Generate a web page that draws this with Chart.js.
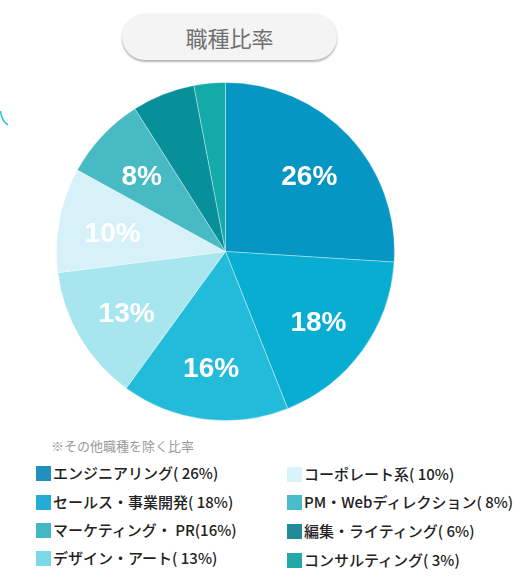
<!DOCTYPE html>
<html><head><meta charset="utf-8">
<script src="https://cdn.jsdelivr.net/npm/chart.js@4.4.1/dist/chart.umd.min.js"></script>
<style>
html,body{margin:0;padding:0;background:#fff;width:526px;height:582px;overflow:hidden;font-family:"Noto Sans CJK JP","Noto Sans",sans-serif;}
#title{position:absolute;left:122px;top:14px;width:215px;height:46px;border-radius:23px;background:#f4f4f4;box-shadow:0 2px 2px rgba(0,0,0,0.28),0 0 2px rgba(0,0,0,0.08);text-align:center;line-height:46px;font-size:22px;color:#707070;}
#deco{position:absolute;left:0;top:100px;}
#wrap{position:absolute;left:56px;top:82px;width:339px;height:339px;}
#note{position:absolute;left:51px;top:436px;font-size:13px;color:#9a9a9a;}
.lg{position:absolute;font-size:15px;font-weight:500;color:#222;white-space:nowrap;line-height:18px;}
.lg span.sq{display:inline-block;width:15px;height:15px;vertical-align:-2px;margin-right:2px;}
</style></head>
<body>
<svg id="deco" width="20" height="30"><path d="M0.5,11 Q1.5,21 8,25" fill="none" stroke="#35c2e0" stroke-width="1.6"/></svg>
<div id="title">職種比率</div>
<div id="wrap"><canvas id="c"></canvas></div>
<div id="note">※その他職種を除く比率</div>
<div id="legend"></div>
<script>
const categories = ["エンジニアリング","セールス・事業開発","マーケティング・ PR","デザイン・アート","コーポレート系","PM・Webディレクション","編集・ライティング","コンサルティング"];
const values = [26,18,16,13,10,8,6,3];
const sliceColors = ["#0596c4","#07aed2","#22bcda","#a8e6ef","#d6f1f8","#47bac4","#07909a","#13aaa8"];
const legendColors = ["#2190c0","#22acd8","#42b8c6","#7ad8e8","#d8f4f8","#48bcc8","#218c98","#22a8a8"];
const labelMin = 8;

const legendPos = [[36,464],[36,493],[36,521],[36,549],[287,465],[287,493],[287,522],[287,551]];
const lg = document.getElementById('legend');
categories.forEach((c,i)=>{
  const d=document.createElement('div');
  d.className='lg';
  d.style.left=legendPos[i][0]+'px';d.style.top=legendPos[i][1]+'px';
  const txt = i===2 ? c+'('+values[i]+'%)' : c+'( '+values[i]+'%)';
  d.innerHTML='<span class="sq" style="background:'+legendColors[i]+'"></span>'+txt;
  lg.appendChild(d);
});

const pctLabels = {
  id:'pctLabels',
  afterDatasetsDraw(chart){
    const ctx=chart.ctx;
    const meta=chart.getDatasetMeta(0);
    ctx.save();
    ctx.font='bold 28px "Liberation Sans", Arial, sans-serif';
    ctx.fillStyle='#ffffff';
    ctx.textAlign='center';ctx.textBaseline='middle';
    meta.data.forEach((arc,i)=>{
      const v=chart.data.datasets[0].data[i];
      if(v<labelMin) return;
      const p=arc.getProps(['x','y','startAngle','endAngle','outerRadius'],true);
      const a=(p.startAngle+p.endAngle)/2;
      const r=p.outerRadius*0.68;
      ctx.fillText(v+'%',p.x+Math.cos(a)*r,p.y+Math.sin(a)*r+4);
    });
    ctx.restore();
  }
};

new Chart(document.getElementById('c'),{
  type:'pie',
  data:{labels:categories,datasets:[{data:values,backgroundColor:sliceColors,borderColor:'rgba(255,255,255,0.35)',borderWidth:1}]},
  options:{responsive:true,maintainAspectRatio:false,animation:false,
    layout:{padding:0},
    plugins:{legend:{display:false},tooltip:{enabled:false}}},
  plugins:[pctLabels]
});
</script>
</body></html>
